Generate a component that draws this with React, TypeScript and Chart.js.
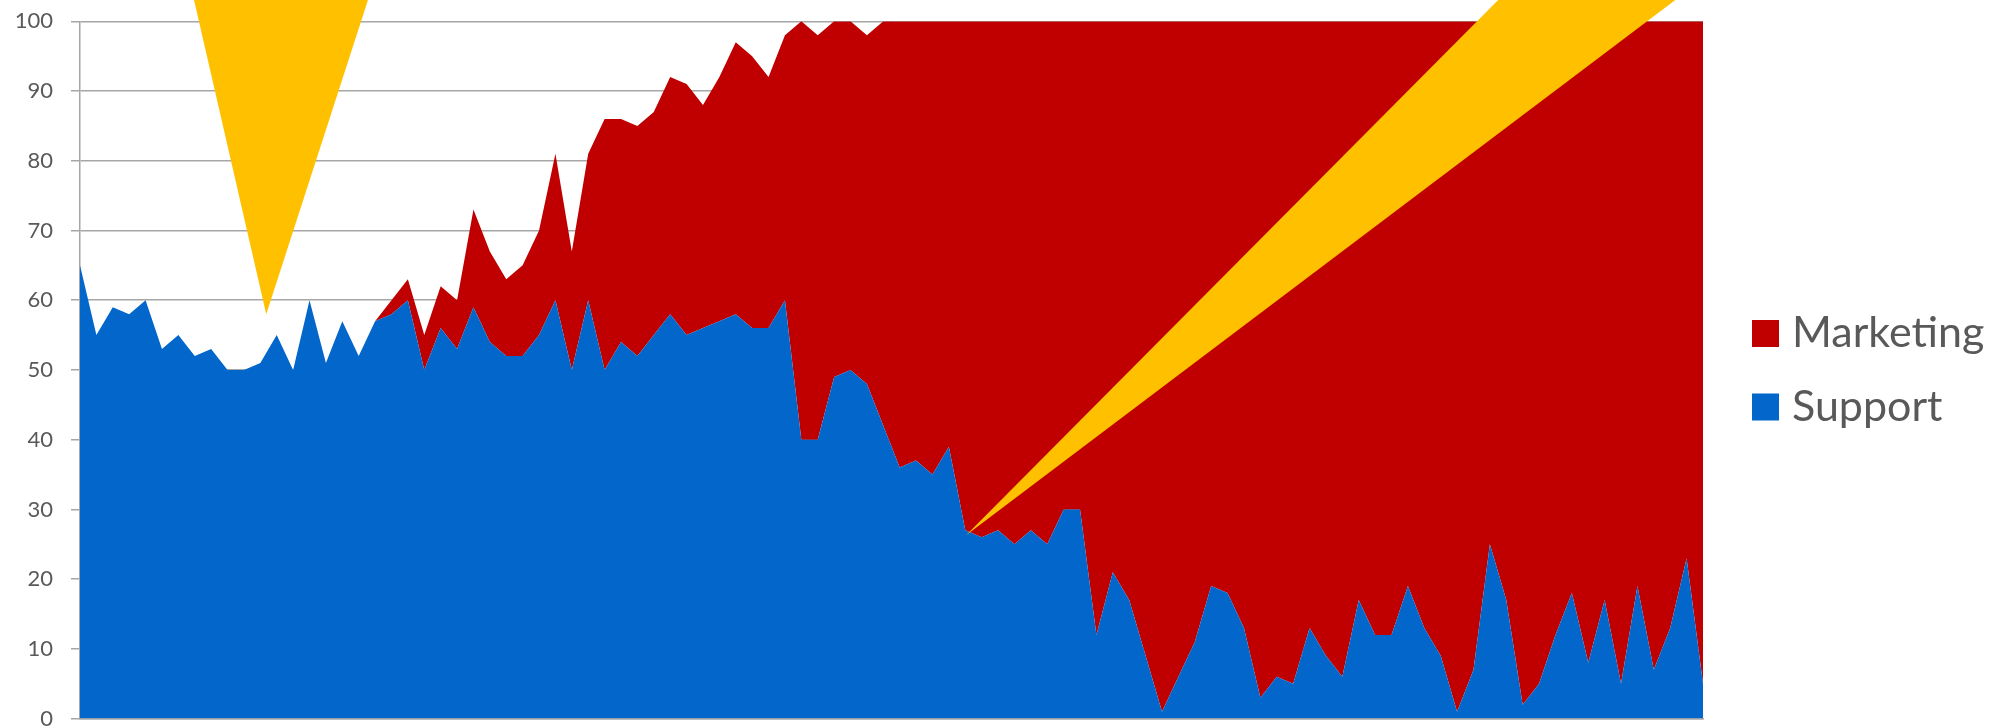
import React, { useEffect, useRef } from "react";
import { Chart, registerables } from "chart.js";

Chart.register(...registerables);

// Values (100 categories)
const support = [
  65, 55, 59, 58, 60, 53, 55, 52, 53, 50,
  50, 51, 55, 50, 60, 51, 57, 52, 57, 58,
  60, 50, 56, 53, 59, 54, 52, 52, 55, 60,
  50, 60, 50, 54, 52, 55, 58, 55, 56, 57,
  58, 56, 56, 60, 40, 40, 49, 50, 48, 42,
  36, 37, 35, 39, 27, 26, 27, 25, 27, 25,
  30, 30, 12, 21, 17, 9, 1, 6, 11, 19,
  18, 13, 3, 6, 5, 13, 9, 6, 17, 12,
  12, 19, 13, 9, 1, 7, 25, 17, 2, 5,
  12, 18, 8, 17, 5, 19, 7, 13, 23, 5,
];

const marketing = [
  0, 0, 0, 0, 0, 0, 0, 0, 0, 0,
  0, 0, 0, 0, 0, 0, 0, 0, 0, 2,
  3, 5, 6, 7, 14, 13, 11, 13, 15, 21,
  17, 21, 36, 32, 33, 32, 34, 36, 32, 35,
  39, 39, 36, 38, 60, 58, 51, 50, 50, 58,
  64, 63, 65, 61, 73, 74, 73, 75, 73, 75,
  70, 70, 88, 79, 83, 91, 99, 94, 89, 81,
  82, 87, 97, 94, 95, 87, 91, 94, 83, 88,
  88, 81, 87, 91, 99, 93, 75, 83, 98, 95,
  88, 82, 92, 83, 95, 81, 93, 87, 77, 95,
];

const categories = support.map((_, i) => String(i + 1));

const yTicks = [0, 10, 20, 30, 40, 50, 60, 70, 80, 90, 100];

// Yellow callout pointers, in data units (category index, value)
const calloutLeft = [
  { x: 4.03, y: 133 },
  { x: 11.36, y: 58 },
  { x: 21.69, y: 133 },
];
const calloutRight = [
  { x: 54.05, y: 26.3 },
  { x: 97.9, y: 130 },
  { x: 112.5, y: 130 },
];

const BLUE = "#0366CB";
const RED = "#C00000";
const YELLOW = "#FFC000";
const GRID = "#a6a6a6";
const TEXT = "#595959";
const FONT = "Lato, 'Open Sans', sans-serif";

const calloutPlugin = {
  id: "callouts",
  afterDatasetsDraw(chart: any) {
    const { ctx } = chart;
    const xs = chart.scales.x;
    const ys = chart.scales.y;
    ctx.save();
    ctx.fillStyle = YELLOW;
    [calloutLeft, calloutRight].forEach((poly) => {
      ctx.beginPath();
      poly.forEach((p, i) => {
        const px = xs.getPixelForValue(p.x);
        const py = ys.getPixelForValue(p.y);
        if (i === 0) ctx.moveTo(px, py);
        else ctx.lineTo(px, py);
      });
      ctx.closePath();
      ctx.fill();
    });
    ctx.restore();
  },
};

const legendPlugin = {
  id: "sideLegend",
  afterDraw(chart: any) {
    const { ctx } = chart;
    const items = chart.data.datasets.slice().reverse();
    const boxX = 1752;
    const box = 27;
    const firstBaseline = 347;
    const step = 73.5;
    ctx.save();
    ctx.font = `43px ${FONT}`;
    ctx.textBaseline = "alphabetic";
    ctx.textAlign = "left";
    items.forEach((ds: any, i: number) => {
      const base = firstBaseline + i * step;
      ctx.fillStyle = ds.backgroundColor;
      ctx.fillRect(boxX, base - box, box, box);
      ctx.fillStyle = TEXT;
      ctx.fillText(ds.label, boxX + box + 13, base);
    });
    ctx.restore();
  },
};

export default function App() {
  const ref = useRef<HTMLCanvasElement>(null);

  useEffect(() => {
    if (!ref.current) return;
    const chart = new Chart(ref.current, {
      type: "line",
      data: {
        labels: categories,
        datasets: [
          {
            label: "Support",
            data: support,
            backgroundColor: BLUE,
            borderColor: BLUE,
            borderWidth: 0,
            pointRadius: 0,
            tension: 0,
            fill: "origin",
          },
          {
            label: "Marketing",
            data: marketing,
            backgroundColor: RED,
            borderColor: RED,
            borderWidth: 0,
            pointRadius: 0,
            tension: 0,
            fill: "-1",
          },
        ],
      },
      options: {
        responsive: false,
        animation: false,
        events: [],
        layout: { padding: { left: 0, right: 292, top: 21.3, bottom: 41.4 } },
        plugins: {
          legend: { display: false },
          tooltip: { enabled: false },
        },
        scales: {
          x: {
            type: "category",
            offset: false,
            grid: { display: false, drawTicks: false },
            ticks: { display: false },
            border: { display: true, color: GRID, width: 1.5 },
            afterFit: (s: any) => {
              s.height = 0;
              s.paddingLeft = 0;
              s.paddingRight = 0;
              s.paddingTop = 0;
              s.paddingBottom = 0;
            },
          },
          y: {
            stacked: true,
            min: 0,
            max: 100,
            afterBuildTicks: (s: any) => {
              s.ticks = yTicks.map((v) => ({ value: v }));
            },
            ticks: {
              padding: 18,
              color: TEXT,
              font: { family: FONT, size: 22 },
            },
            grid: {
              color: GRID,
              lineWidth: 1.5,
              drawTicks: true,
              tickLength: 9,
            },
            border: { display: true, color: GRID, width: 1.5 },
            afterFit: (s: any) => {
              s.width = 80;
              s.paddingTop = 0;
              s.paddingBottom = 0;
              s.paddingLeft = 0;
              s.paddingRight = 0;
            },
          },
        },
      },
      plugins: [calloutPlugin, legendPlugin],
    });
    return () => chart.destroy();
  }, []);

  return (
    <div
      style={{
        position: "fixed",
        left: 0,
        top: 0,
        width: 1995,
        height: 726,
        overflow: "hidden",
        background: "#fff",
      }}
    >
      <canvas ref={ref} width={1995} height={760} style={{ display: "block" }} />
    </div>
  );
}
